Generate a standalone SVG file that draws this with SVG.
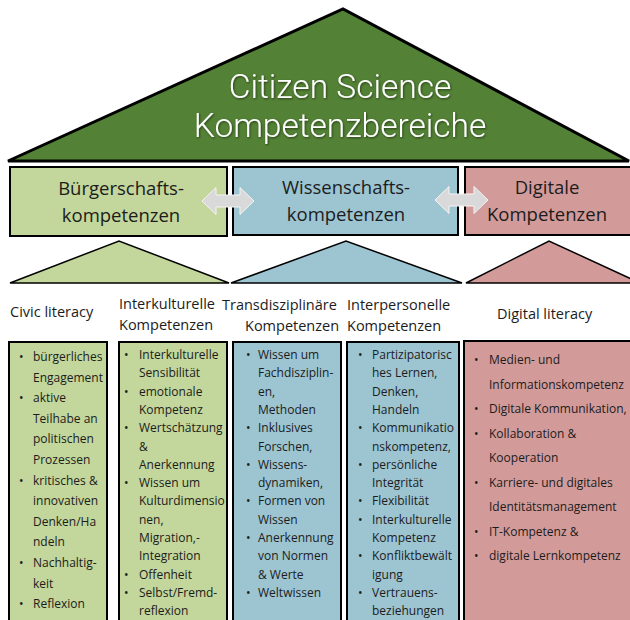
<svg xmlns="http://www.w3.org/2000/svg" width="630" height="620" viewBox="0 0 630 620">
  <defs>
    <filter id="titleShadow" x="-10%" y="-20%" width="120%" height="140%">
      <feDropShadow dx="0.8" dy="1" stdDeviation="0.8" flood-color="#000" flood-opacity="0.55"/>
    </filter>
  </defs>
  <style>
    text { font-family: "Open Sans", "Noto Sans", "Liberation Sans", sans-serif; fill: #1c1c1c; }
    .roof { fill: #538135; stroke: #000; stroke-width: 3; stroke-linejoin: miter; }
    .roof-title { font-family: Roboto, "Open Sans", sans-serif; font-size: 33.5px; font-weight: 300; fill: #fff; text-anchor: middle; }
    .area { stroke: #000; stroke-width: 2; }
    .area-title { font-size: 18.5px; text-anchor: middle; }
    .tri { stroke: #000; stroke-width: 1.5; stroke-linejoin: miter; }
    .green { fill: #c3d69b; }
    .blue { fill: #9cc4d1; }
    .pink { fill: #d29b9a; }
    .col { stroke: #000; stroke-width: 2; }
    .head { font-size: 14.5px; }
    .item { font-size: 12px; }
    .link { fill: #d9d9d9; stroke: #f4f4f4; stroke-width: 1; }
  </style>

  <!-- main roof -->
  <g id="roof">
    <polygon class="roof" points="8,161 343,9 629,161"/>
    <g filter="url(#titleShadow)">
      <text class="roof-title" x="340" y="97.5">Citizen Science</text>
      <text class="roof-title" x="340" y="137">Kompetenzbereiche</text>
    </g>
  </g>

  <!-- three competence areas -->
  <g id="area-buerger">
    <rect class="area green" x="10" y="167" width="217" height="69"/>
    <text class="area-title" x="121" y="195">Bürgerschafts-</text>
    <text class="area-title" x="121" y="222">kompetenzen</text>
    <polygon class="tri green" points="10,283 119,241 229,283"/>
  </g>
  <g id="area-wissen">
    <rect class="area blue" x="233" y="167" width="225" height="68"/>
    <text class="area-title" x="346" y="194">Wissenschafts-</text>
    <text class="area-title" x="346" y="221">kompetenzen</text>
    <polygon class="tri blue" points="231,283 346,241 462,283"/>
  </g>
  <g id="area-digital">
    <rect class="area pink" x="465" y="167" width="170" height="68"/>
    <text class="area-title" x="547" y="194">Digitale</text>
    <text class="area-title" x="547" y="221">Kompetenzen</text>
    <polygon class="tri pink" points="466,283 549,241 640,283"/>
  </g>

  <!-- links between areas -->
  <g id="connectors">
    <path class="link" d="M202,201 L216,187.5 L216,195 L240,195 L240,187.5 L254,201 L240,214.5 L240,207 L216,207 L216,214.5 Z"/>
    <path class="link" d="M435,200 L449,186.5 L449,194 L474,194 L474,186.5 L488,200 L474,213.5 L474,206 L449,206 L449,213.5 Z"/>
  </g>

  <!-- column: civic literacy -->
  <g id="col-civic">
    <text class="head" x="10" y="317">Civic literacy</text>
    <rect class="col green" x="9" y="342" width="98" height="290"/>
    <text class="item" x="19" y="361">•</text><text class="item" x="33" y="361">bürgerliches</text>
    <text class="item" x="33" y="381.6">Engagement</text>
    <text class="item" x="19" y="402.2">•</text><text class="item" x="33" y="402.2">aktive</text>
    <text class="item" x="33" y="422.8">Teilhabe an</text>
    <text class="item" x="33" y="443.4">politischen</text>
    <text class="item" x="33" y="464">Prozessen</text>
    <text class="item" x="19" y="484.6">•</text><text class="item" x="33" y="484.6">kritisches &amp;</text>
    <text class="item" x="33" y="505.2">innovativen</text>
    <text class="item" x="33" y="525.8">Denken/Ha</text>
    <text class="item" x="33" y="546.4">ndeln</text>
    <text class="item" x="19" y="567">•</text><text class="item" x="33" y="567">Nachhaltig-</text>
    <text class="item" x="33" y="587.6">keit</text>
    <text class="item" x="19" y="608.2">•</text><text class="item" x="33" y="608.2">Reflexion</text>
  </g>

  <!-- column: intercultural -->
  <g id="col-interkulturell">
    <text class="head" x="119" y="309">Interkulturelle</text>
    <text class="head" x="119" y="330">Kompetenzen</text>
    <rect class="col green" x="119" y="342" width="108" height="290"/>
    <text class="item" x="124" y="359">•</text><text class="item" x="139" y="359">Interkulturelle</text>
    <text class="item" x="139" y="377.3">Sensibilität</text>
    <text class="item" x="124" y="395.6">•</text><text class="item" x="139" y="395.6">emotionale</text>
    <text class="item" x="139" y="413.9">Kompetenz</text>
    <text class="item" x="124" y="432.2">•</text><text class="item" x="139" y="432.2">Wertschätzung</text>
    <text class="item" x="139" y="450.5">&amp;</text>
    <text class="item" x="139" y="468.8">Anerkennung</text>
    <text class="item" x="124" y="487.1">•</text><text class="item" x="139" y="487.1">Wissen um</text>
    <text class="item" x="139" y="505.4">Kulturdimensio</text>
    <text class="item" x="139" y="523.7">nen,</text>
    <text class="item" x="139" y="542">Migration,-</text>
    <text class="item" x="139" y="560.3">Integration</text>
    <text class="item" x="124" y="578.6">•</text><text class="item" x="139" y="578.6">Offenheit</text>
    <text class="item" x="124" y="596.9">•</text><text class="item" x="139" y="596.9">Selbst/Fremd-</text>
    <text class="item" x="139" y="615.2">reflexion</text>
  </g>

  <!-- column: transdisciplinary -->
  <g id="col-transdisziplinaer">
    <text class="head" x="222" y="310">Transdisziplinäre</text>
    <text class="head" x="245" y="331">Kompetenzen</text>
    <rect class="col blue" x="233" y="342" width="108" height="290"/>
    <text class="item" x="246" y="359">•</text><text class="item" x="258" y="359">Wissen um</text>
    <text class="item" x="258" y="377.3">Fachdisziplin-</text>
    <text class="item" x="258" y="395.6">en,</text>
    <text class="item" x="258" y="413.9">Methoden</text>
    <text class="item" x="246" y="432.2">•</text><text class="item" x="258" y="432.2">Inklusives</text>
    <text class="item" x="258" y="450.5">Forschen,</text>
    <text class="item" x="246" y="468.8">•</text><text class="item" x="258" y="468.8">Wissens-</text>
    <text class="item" x="258" y="487.1">dynamiken,</text>
    <text class="item" x="246" y="505.4">•</text><text class="item" x="258" y="505.4">Formen von</text>
    <text class="item" x="258" y="523.7">Wissen</text>
    <text class="item" x="246" y="542">•</text><text class="item" x="258" y="542">Anerkennung</text>
    <text class="item" x="258" y="560.3">von Normen</text>
    <text class="item" x="258" y="578.6">&amp; Werte</text>
    <text class="item" x="246" y="596.9">•</text><text class="item" x="258" y="596.9">Weltwissen</text>
  </g>

  <!-- column: interpersonal -->
  <g id="col-interpersonell">
    <text class="head" x="347" y="310">Interpersonelle</text>
    <text class="head" x="347" y="331">Kompetenzen</text>
    <rect class="col blue" x="347" y="342" width="112" height="290"/>
    <text class="item" x="358" y="359">•</text><text class="item" x="372" y="359">Partizipatorisc</text>
    <text class="item" x="372" y="377.3">hes Lernen,</text>
    <text class="item" x="372" y="395.6">Denken,</text>
    <text class="item" x="372" y="413.9">Handeln</text>
    <text class="item" x="358" y="432.2">•</text><text class="item" x="372" y="432.2">Kommunikatio</text>
    <text class="item" x="372" y="450.5">nskompetenz,</text>
    <text class="item" x="358" y="468.8">•</text><text class="item" x="372" y="468.8">persönliche</text>
    <text class="item" x="372" y="487.1">Integrität</text>
    <text class="item" x="358" y="505.4">•</text><text class="item" x="372" y="505.4">Flexibilität</text>
    <text class="item" x="358" y="523.7">•</text><text class="item" x="372" y="523.7">Interkulturelle</text>
    <text class="item" x="372" y="542">Kompetenz</text>
    <text class="item" x="358" y="560.3">•</text><text class="item" x="372" y="560.3">Konfliktbewält</text>
    <text class="item" x="372" y="578.6">igung</text>
    <text class="item" x="358" y="596.9">•</text><text class="item" x="372" y="596.9">Vertrauens-</text>
    <text class="item" x="372" y="615.2">beziehungen</text>
  </g>

  <!-- column: digital literacy -->
  <g id="col-digital">
    <text class="head" x="497" y="319">Digital literacy</text>
    <rect class="col pink" x="464" y="341" width="170" height="290"/>
    <text class="item" x="474" y="364">•</text><text class="item" x="489" y="364">Medien- und</text>
    <text class="item" x="489" y="388.5">Informationskompetenz</text>
    <text class="item" x="474" y="413">•</text><text class="item" x="489" y="413">Digitale Kommunikation,</text>
    <text class="item" x="474" y="437.5">•</text><text class="item" x="489" y="437.5">Kollaboration &amp;</text>
    <text class="item" x="489" y="462">Kooperation</text>
    <text class="item" x="474" y="486.5">•</text><text class="item" x="489" y="486.5">Karriere- und digitales</text>
    <text class="item" x="489" y="511">Identitätsmanagement</text>
    <text class="item" x="474" y="535.5">•</text><text class="item" x="489" y="535.5">IT-Kompetenz &amp;</text>
    <text class="item" x="474" y="560">•</text><text class="item" x="489" y="560">digitale Lernkompetenz</text>
  </g>
</svg>
